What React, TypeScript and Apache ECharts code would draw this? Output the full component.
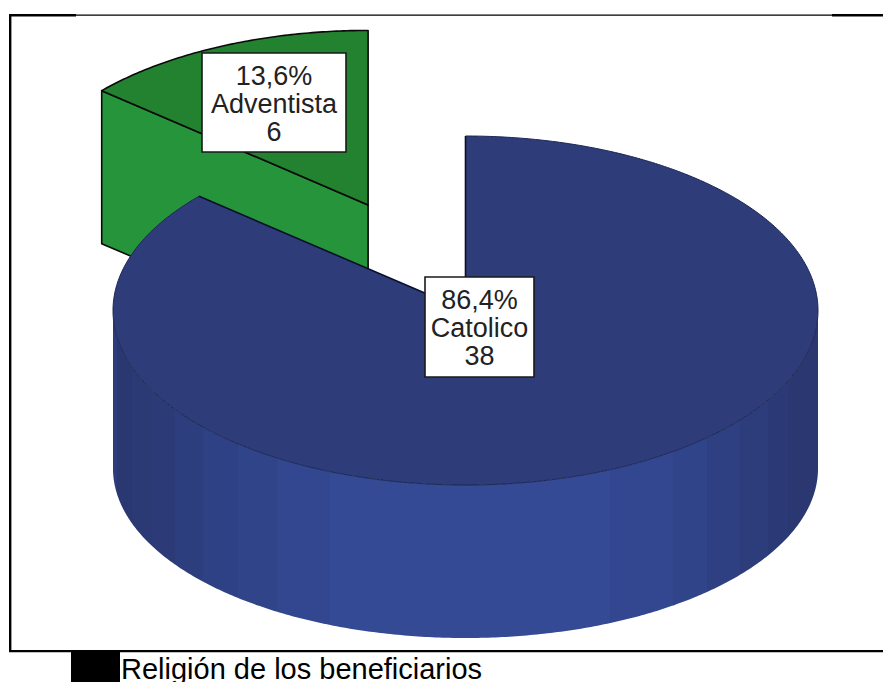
import React, { useEffect, useRef } from "react";
import * as echarts from "echarts";

const categories = ["Adventista", "Catolico"];
const counts = [6, 38];
const topColors = ["#22822f", "#2e3d7a"];
const wallColors = ["#26943a", "#34498f"];
const explode = [0.665, 0];
const caption = "Religión de los beneficiarios";
const labelBoxes = [
  { x: 202, y: 53, w: 144, h: 99 },
  { x: 425, y: 277, w: 109, h: 100 },
];
const wallBandEdges = [113, 117, 132, 152, 175, 203, 238, 277, 330, 610, 673, 707, 740, 768, 788, 818];
const wallBandColors = [
  "#2c3c7a", "#2a3872", "#2b3a75", "#2c3b78", "#2d3e7f", "#2f4185", "#30448a", "#32478f",
  "#344a94", "#32478f", "#30448a", "#2e4082", "#2d3d7c", "#2b3a76", "#2a3771",
];

const CX = 465.5;
const CY = 310.5;
const RX = 352.5;
const RY = 174.5;
const DEPTH = 153;
const BASE_CY = 468.5;
const BASE_RY = 169.5;
const total = counts.reduce((a, b) => a + b, 0);

function arcPoints(cx: number, cy: number, ry: number, a0: number, a1: number) {
  const pts: number[][] = [];
  const n = Math.max(2, Math.ceil(Math.abs(a1 - a0) / 0.01));
  for (let i = 0; i <= n; i++) {
    const a = a0 + ((a1 - a0) * i) / n;
    pts.push([cx + RX * Math.sin(a), cy - ry * Math.cos(a)]);
  }
  return pts;
}

function wallGradient() {
  const span = wallBandEdges[wallBandEdges.length - 1] - wallBandEdges[0];
  const stops: { offset: number; color: string }[] = [];
  wallBandColors.forEach((color, i) => {
    stops.push({ offset: (wallBandEdges[i] - wallBandEdges[0]) / span, color });
    stops.push({ offset: (wallBandEdges[i + 1] - wallBandEdges[0]) / span, color });
  });
  return new echarts.graphic.LinearGradient(0, 0, 1, 0, stops);
}

function renderItem(params: any, api: any) {
  const idx = params.dataIndex;
  const value = api.value(1);
  const before = counts.slice(0, idx).reduce((a, b) => a + b, 0);
  const a0 = -(before / total) * 2 * Math.PI;
  const a1 = a0 - (value / total) * 2 * Math.PI;
  const mid = (a0 + a1) / 2;
  const cx = CX + RX * Math.sin(mid) * explode[idx];
  const cy = CY - RY * Math.cos(mid) * explode[idx];
  const arc = arcPoints(cx, cy, RY, a0, a1);
  const children: any[] = [];

  if (idx === 0) {
    const end = arc[arc.length - 1];
    children.push({
      type: "polygon",
      shape: { points: [end, [cx, cy], [cx, cy + DEPTH], [end[0], end[1] + DEPTH]] },
      style: { fill: wallColors[idx], stroke: "#0a0a0a", lineWidth: 1.6, lineJoin: "round" },
    });
    children.push({
      type: "polygon",
      shape: { points: [[cx, cy], ...arc] },
      style: { fill: topColors[idx], stroke: "#0a0a0a", lineWidth: 1.6, lineJoin: "round" },
    });
  } else {
    const wallTop = arcPoints(cx, cy, RY, Math.PI / 2, (3 * Math.PI) / 2);
    const wallBottom = arcPoints(cx, BASE_CY, BASE_RY, (3 * Math.PI) / 2, Math.PI / 2);
    children.push({
      type: "polygon",
      shape: { points: [...wallTop, ...wallBottom] },
      style: { fill: wallGradient() },
    });
    children.push({
      type: "polygon",
      shape: { points: [[cx, cy], ...arc] },
      style: { fill: topColors[idx] },
    });
    children.push({
      type: "polyline",
      shape: { points: arc },
      style: { fill: "none", stroke: "#1b2653", lineWidth: 1 },
    });
    children.push({
      type: "polyline",
      shape: { points: [arc[arc.length - 1], [cx, cy], arc[0]] },
      style: { fill: "none", stroke: "#0a0f2a", lineWidth: 1.6 },
    });
  }

  const box = labelBoxes[idx];
  children.push({
    type: "rect",
    shape: { x: box.x, y: box.y, width: box.w, height: box.h },
    style: { fill: "#ffffff", stroke: "#1a1a1a", lineWidth: 1.6 },
  });
  const pct = ((value / total) * 100).toFixed(1).replace(".", ",") + "%";
  children.push({
    type: "text",
    style: {
      x: box.x + box.w / 2,
      y: box.y + box.h / 2 + 1,
      text: `${pct}\n${categories[idx]}\n${value}`,
      fill: "#222222",
      font: '27px "Liberation Sans"',
      lineHeight: 28,
      align: "center",
      verticalAlign: "middle",
    },
  });
  return { type: "group", children };
}

export default function App() {
  const ref = useRef<HTMLDivElement>(null);
  useEffect(() => {
    const chart = echarts.init(ref.current!, null, { renderer: "svg" });
    chart.setOption({
      animation: false,
      backgroundColor: "#ffffff",
      xAxis: { show: false },
      yAxis: { show: false },
      series: [
        {
          type: "custom",
          coordinateSystem: "none",
          clip: false,
          renderItem,
          data: categories.map((c, i) => ({ name: c, value: [i, counts[i]] })),
        },
      ],
      graphic: [
        { type: "rect", shape: { x: 9, y: 14, width: 67, height: 2.4 }, style: { fill: "#000" }, z: 10 },
        { type: "rect", shape: { x: 76, y: 14.5, width: 756, height: 1.3 }, style: { fill: "#000" }, z: 10 },
        { type: "rect", shape: { x: 832, y: 14, width: 51, height: 2.4 }, style: { fill: "#000" }, z: 10 },
        { type: "rect", shape: { x: 9, y: 14, width: 2.4, height: 638 }, style: { fill: "#000" }, z: 10 },
        { type: "rect", shape: { x: 9, y: 650, width: 874, height: 2.3 }, style: { fill: "#000" }, z: 10 },
        { type: "rect", shape: { x: 71, y: 652, width: 49, height: 30 }, style: { fill: "#000" }, z: 10 },
        {
          type: "text",
          x: 121,
          y: 669,
          style: {
            text: caption,
            fill: "#000",
            font: '29px "Liberation Sans"',
            verticalAlign: "middle",
            align: "left",
          },
          z: 10,
        },
      ],
    });
    return () => chart.dispose();
  }, []);
  return (
    <div
      ref={ref}
      style={{ position: "fixed", left: 0, top: 0, width: 883, height: 682, overflow: "hidden" }}
    />
  );
}
